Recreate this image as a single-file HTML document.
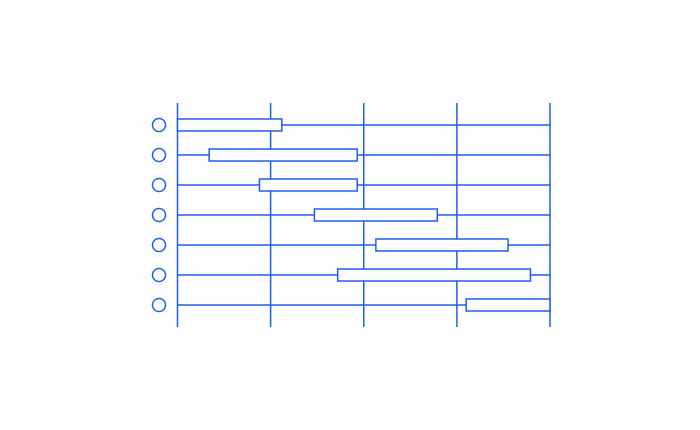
<!DOCTYPE html>
<html><head><meta charset="utf-8"><style>
html,body{margin:0;padding:0;background:#fdfdfd;}
svg{display:block;font-family:"Liberation Sans",sans-serif;}
</style></head><body>
<svg id="chart" width="700" height="430"></svg>
<script>
const rows = ["r1","r2","r3","r4","r5","r6","r7"];
const starts = [0, 0.34, 0.88, 1.47, 2.13, 1.72, 3.1];
const ends = [1.12, 1.93, 1.93, 2.79, 3.55, 3.79, 4.0];
const ticks = [0, 1, 2, 3, 4];
const NS = "http://www.w3.org/2000/svg";
const svg = document.getElementById("chart");
const C = "#1f5fe8";
const x = v => 177.5 + v * 93.125;
const y = i => 125 + i * 30;
function mk(tag, attrs) {
  const e = document.createElementNS(NS, tag);
  for (const k in attrs) e.setAttribute(k, attrs[k]);
  svg.appendChild(e);
  return e;
}
ticks.forEach(t => {
  const l = mk("line", {x1: x(t), x2: x(t), y1: 103, y2: 327, stroke: C, "stroke-width": 1.5});
  
  
});
rows.forEach((r, i) => {
  const l = mk("line", {x1: x(0), x2: x(4), y1: y(i), y2: y(i), stroke: C, "stroke-width": 1.5});
  
  
  const c = mk("circle", {cx: 159, cy: y(i), r: 6.5, fill: "none", stroke: C, "stroke-width": 1.5});
  
  
  const b = mk("rect", {x: x(starts[i]), y: y(i) - 6, width: x(ends[i]) - x(starts[i]), height: 12, fill: "#fdfdfd", stroke: C, "stroke-width": 1.5});
  
  
});
</script>
</body></html>
